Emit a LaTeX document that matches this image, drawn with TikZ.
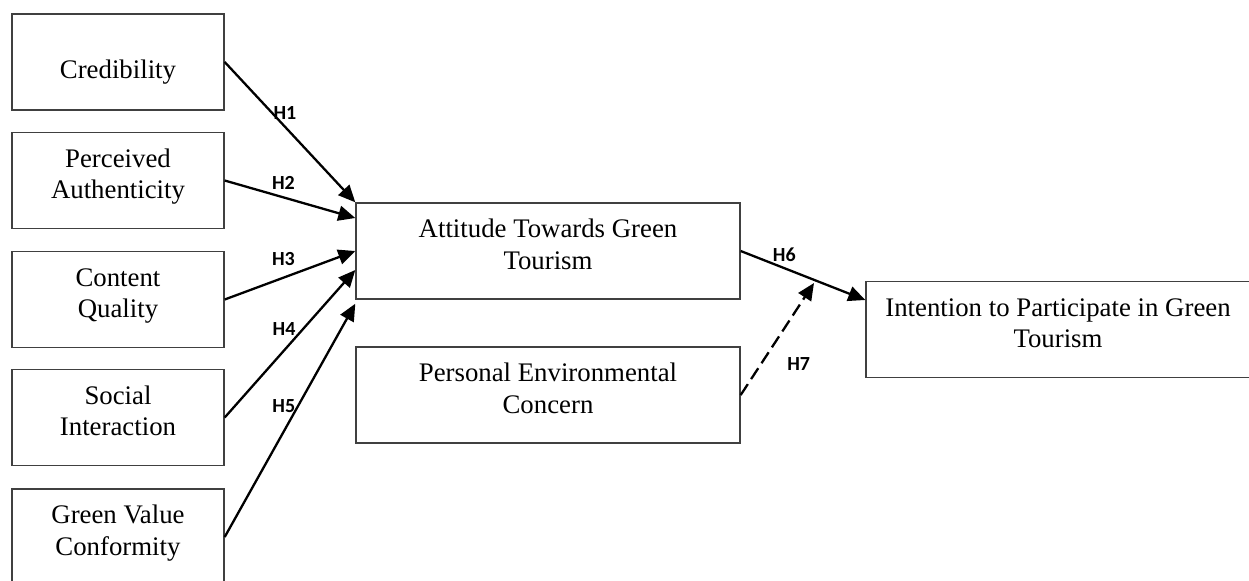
\documentclass[tikz,border=0pt]{standalone}
\usepackage{fontspec}
\setmainfont{Liberation Serif}
\newfontfamily\hypfont{Carlito}
\usetikzlibrary{arrows.meta}

\begin{document}
\begin{tikzpicture}[x=0.5pt, y=-0.5pt,
  construct/.style={draw=black!75, line width=0.7pt, align=center, inner sep=0pt,
    font=\fontsize{13.4}{15.8}\selectfont, text height=18.4pt, text depth=0pt},
  smallbox/.style={construct, minimum width=106pt, minimum height=48pt},
  widebox/.style={construct, minimum width=192pt, minimum height=48pt},
  hyp/.style={-{Triangle[length=8.5pt, width=7.5pt]}, line width=1.15pt},
  hlabel/.style={font=\hypfont\bfseries\fontsize{10}{12}\selectfont, inner sep=0pt}]
\useasboundingbox (0,0) rectangle (1249,580);

% Predictors
\node[smallbox, text height=16.5pt] (cred) at (118,62) {Credibility};
\node[smallbox] (auth) at (118,180.5) {Perceived\\Authenticity};
\node[smallbox] (qual) at (118,299.5) {Content\\Quality};
\node[smallbox] (soc) at (118,417.5) {Social\\Interaction};
\node[smallbox] (gvc) at (118,537) {Green Value\\Conformity};

% Mediator and moderator
\node[widebox] (att) at (548,251) {Attitude Towards Green\\Tourism};
\node[widebox] (pec) at (548,395) {Personal Environmental\\Concern};

% Outcome
\node[widebox] (int) at (1058,329.5) {Intention to Participate in Green\\Tourism};

% Hypotheses H1--H5
\draw[hyp] (cred.east) -- (att.north west) node[hlabel, pos=0.4, xshift=4pt, yshift=2.5pt] {H1};
\draw[hyp] (auth.east) -- ([yshift=16.5pt]att.west) node[hlabel, pos=0.45, yshift=7pt] {H2};
\draw[hyp] (qual.east) -- (att.west) node[hlabel, pos=0.45, yshift=9.5pt] {H3};
\draw[hyp] (soc.east) -- ([yshift=-9.5pt]att.west) node[hlabel, pos=0.6, xshift=-9.5pt] {H4};
\draw[hyp] (gvc.east) -- ([yshift=-2pt]att.south west) node[hlabel, pos=0.56, xshift=-7pt] {H5};

% H6 and moderation H7
\draw[hyp] (att.east) -- ([yshift=14.75pt]int.west) node[hlabel, pos=0.35, yshift=6.5pt] {H6};
\coordinate (h7end) at (814,283);
\draw[hyp, dash pattern=on 6.5pt off 3pt] (pec.east) -- (h7end) node[hlabel, pos=0.3, xshift=18pt, yshift=-1.3pt] {H7};
\end{tikzpicture}
\end{document}
